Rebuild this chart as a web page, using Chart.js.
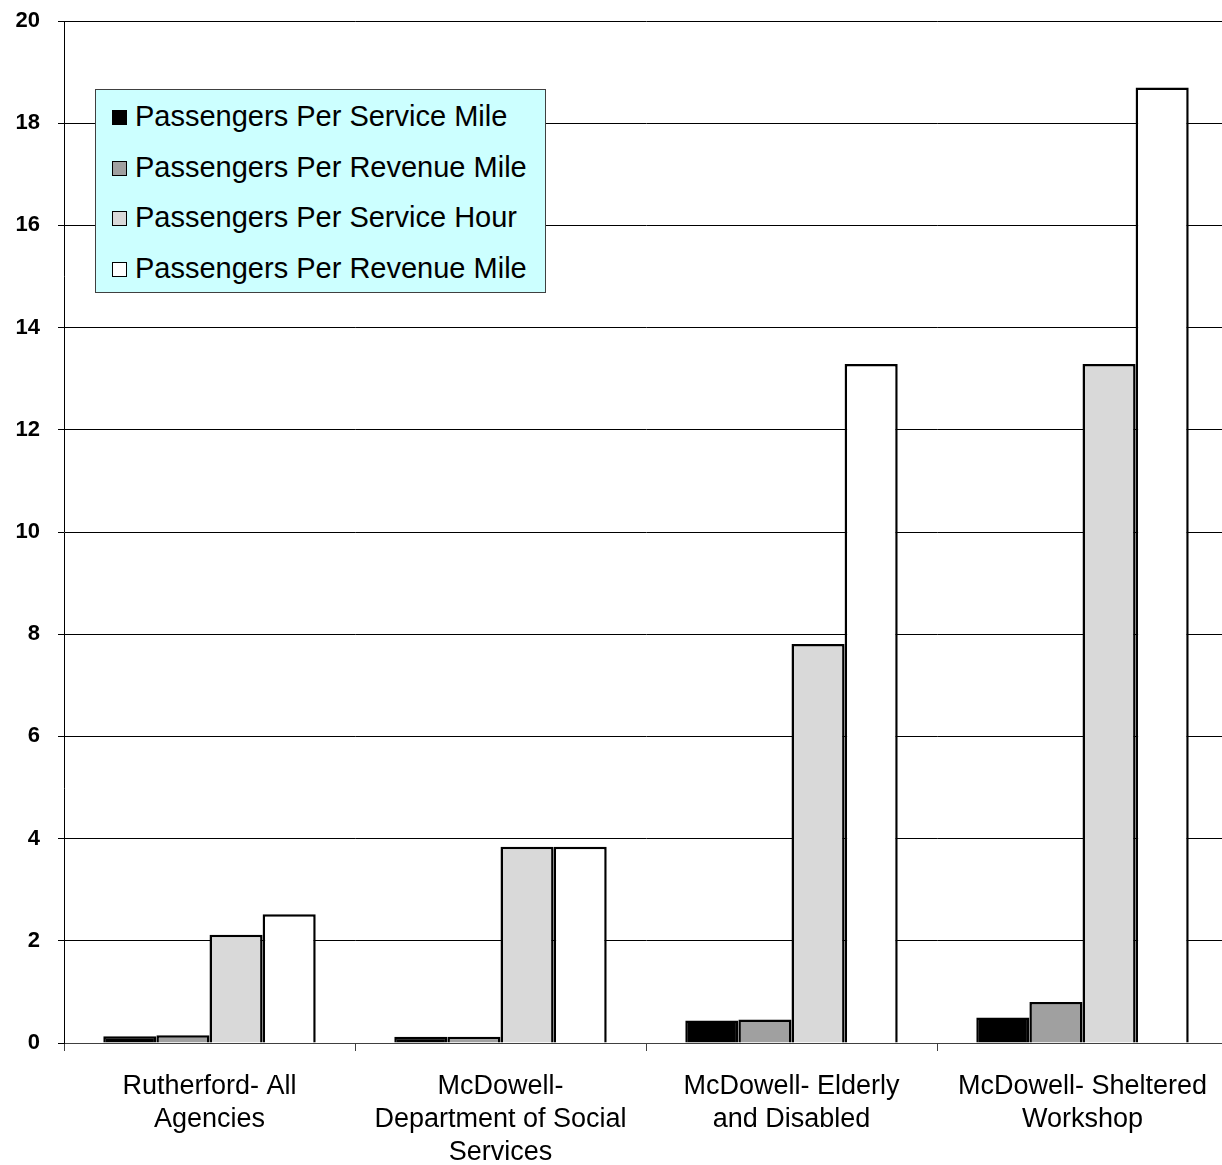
<!DOCTYPE html>
<html>
<head>
<meta charset="utf-8">
<script src="https://cdn.jsdelivr.net/npm/chart.js@4/dist/chart.umd.min.js"></script>
<style>
  html, body { margin: 0; padding: 0; overflow: hidden; background: #fff; }
  #wrap { position: relative; width: 1222px; height: 1165px; overflow: hidden; }
  #myChart { position: absolute; left: 0; top: 0; }
  #legend {
    position: absolute; left: 95px; top: 89px; width: 449px; height: 202px;
    background: #ccffff; border: 1px solid #404040;
    font-family: "Liberation Sans", Arial, sans-serif; font-size: 29px; color: #000;
  }
  .item { position: absolute; left: 16px; height: 34px; line-height: 34px; white-space: nowrap; }
  .sw { display: inline-block; width: 13px; height: 13px; border: 1.5px solid #000; margin-right: 8px; vertical-align: 1px; }
</style>
</head>
<body>
<div id="wrap">
  <canvas id="myChart" width="1234" height="1165"></canvas>
  <div id="legend"></div>
</div>
<script>
const categories = [
  ['Rutherford- All', 'Agencies'],
  ['McDowell-', 'Department of Social', 'Services'],
  ['McDowell- Elderly', 'and Disabled'],
  ['McDowell- Sheltered', 'Workshop']
];
const seriesNames = [
  'Passengers Per Service Mile',
  'Passengers Per Revenue Mile',
  'Passengers Per Service Hour',
  'Passengers Per Revenue Mile'
];
const perServiceMile = [0.13, 0.12, 0.44, 0.50];
const perRevenueMile = [0.15, 0.12, 0.46, 0.80];
const perServiceHour = [2.12, 3.84, 7.81, 13.29];
const perRevenueMile2 = [2.52, 3.84, 13.29, 18.70];
const yTicks = [0, 2, 4, 6, 8, 10, 12, 14, 16, 18, 20];

const fills = ['#000000', '#a0a0a0', '#d9d9d9', '#ffffff'];
const values = [perServiceMile, perRevenueMile, perServiceHour, perRevenueMile2];

const data = {
  labels: categories,
  datasets: seriesNames.map((name, i) => ({
    label: name,
    data: values[i],
    backgroundColor: fills[i],
    borderColor: '#000000',
    borderWidth: 2.5,
    borderSkipped: 'bottom'
  }))
};

const config = {
  type: 'bar',
  data,
  options: {
    responsive: false,
    animation: false,
    layout: { padding: { top: 21, right: 6, bottom: 0, left: 0 } },
    datasets: { bar: { categoryPercentage: 0.73, barPercentage: 1 } },
    plugins: { legend: { display: false }, tooltip: { enabled: false } },
    scales: {
      x: {
        grid: { drawOnChartArea: false, color: '#404040', tickLength: 8, offset: true },
        border: { color: '#404040', width: 1 },
        ticks: {
          color: '#000',
          maxRotation: 0,
          padding: 19,
          font: { family: '"Liberation Sans", Arial, sans-serif', size: 27, lineHeight: 1.22 }
        },
        afterFit: s => { s.height = 122; }
      },
      y: {
        min: 0,
        max: 20,
        afterBuildTicks: s => { s.ticks = yTicks.map(v => ({ value: v })); },
        grid: { color: '#000', lineWidth: 1, tickLength: 6 },
        border: { color: '#000', width: 1 },
        ticks: {
          color: '#000',
          padding: 18,
          font: { family: '"Liberation Sans", Arial, sans-serif', size: 22, weight: 'bold' }
        },
        afterFit: s => { s.width = 64; s.paddingTop = 0; s.paddingBottom = 0; }
      }
    }
  }
};

const myChart = new Chart(document.getElementById('myChart'), config);

// legend built from the datasets
const legend = document.getElementById('legend');
data.datasets.forEach((ds, i) => {
  const row = document.createElement('div');
  row.className = 'item';
  row.style.top = (9 + i * 50.5) + 'px';
  const sw = document.createElement('span');
  sw.className = 'sw';
  sw.style.background = ds.backgroundColor;
  row.appendChild(sw);
  row.appendChild(document.createTextNode(ds.label));
  legend.appendChild(row);
});
</script>
</body>
</html>
